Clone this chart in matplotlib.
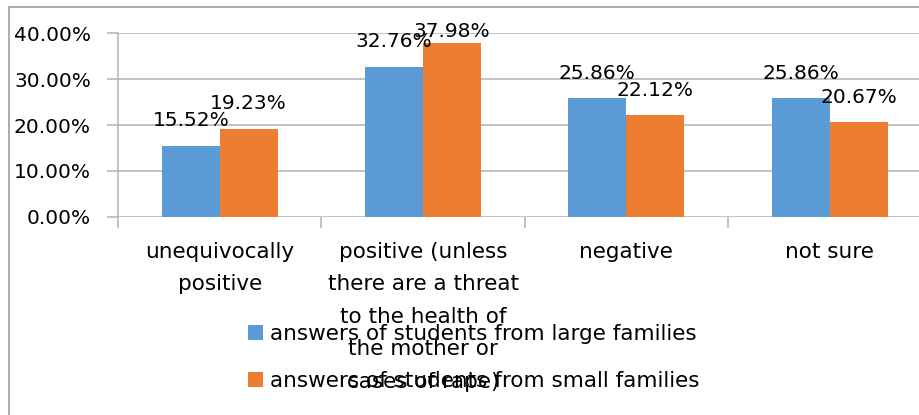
"""Grouped bar chart: attitudes of students from large vs small families."""
import matplotlib

matplotlib.use("Agg")
import matplotlib.pyplot as plt
import numpy as np
from matplotlib.patches import Rectangle

categories = [
    "unequivocally\npositive",
    "positive (unless\nthere are a threat\nto the health of\nthe mother or\ncases of rape)",
    "negative",
    "not sure",
]
large_families = [15.52, 32.76, 25.86, 25.86]
small_families = [19.23, 37.98, 22.12, 20.67]
series_names = [
    "answers of students from large families",
    "answers of students from small families",
]
y_ticks = [0, 10, 20, 30, 40]

BLUE = "#5B9BD5"
ORANGE = "#ED7D31"
GRID = "#B3B3B3"
NUM_FONT = 14.5
TEXT_FONT = 15.5

plt.rcParams["font.family"] = ["DejaVu Sans"]

fig = plt.figure(figsize=(9.2, 4.15), dpi=100)
# plot area runs past the right edge of the canvas
ax = fig.add_axes([0.1283, 0.4778, 0.884, 0.4415])

x = np.arange(len(categories)) + 0.5
width = 0.285
bars_l = ax.bar(x - width / 2, large_families, width, color=BLUE, label=series_names[0], zorder=3)
bars_s = ax.bar(x + width / 2, small_families, width, color=ORANGE, label=series_names[1], zorder=3)

# value labels sit above each bar, held below the top of the chart area
for bars, vals in ((bars_l, large_families), (bars_s, small_families)):
    for b, v in zip(bars, vals):
        ax.text(b.get_x() + b.get_width() / 2, min(v + 4.25, 39.25), f"{v:.2f}%",
                ha="center", va="baseline", fontsize=NUM_FONT, zorder=4, clip_on=False)

ax.set_xlim(0, 4)
ax.set_ylim(0, 40)
ax.set_yticks(y_ticks, [f"{t:.2f}%" for t in y_ticks])
ax.yaxis.grid(True, color=GRID, lw=1.1, zorder=0)
ax.tick_params(axis="y", length=8, color=GRID, width=1.1, pad=11.5, labelsize=NUM_FONT)

ax.set_xticks(x, categories)
ax.set_xticks(np.arange(len(categories) + 1), minor=True)
ax.tick_params(axis="x", which="major", length=0, pad=18, labelsize=TEXT_FONT)
ax.tick_params(axis="x", which="minor", length=8, color=GRID, width=1.1)
for lab in ax.get_xticklabels():
    lab.set_linespacing(1.78)

for side in ("top", "right", "bottom"):
    ax.spines[side].set_visible(False)
ax.spines["left"].set_color(GRID)
ax.spines["left"].set_linewidth(1.1)

fig.legend(handles=[bars_l, bars_s], labels=series_names, loc="center",
           bbox_to_anchor=(0.515, 0.139), frameon=False, fontsize=TEXT_FONT,
           handlelength=0.7, handleheight=0.7, handletextpad=0.33, labelspacing=1.27,
           borderpad=0.2)

fig.add_artist(Rectangle((0.0103, -0.05), 1.05, 1.033, transform=fig.transFigure,
                         fill=False, edgecolor="#A6A6A6", lw=1.3))

fig.savefig("out.png", dpi=100)
